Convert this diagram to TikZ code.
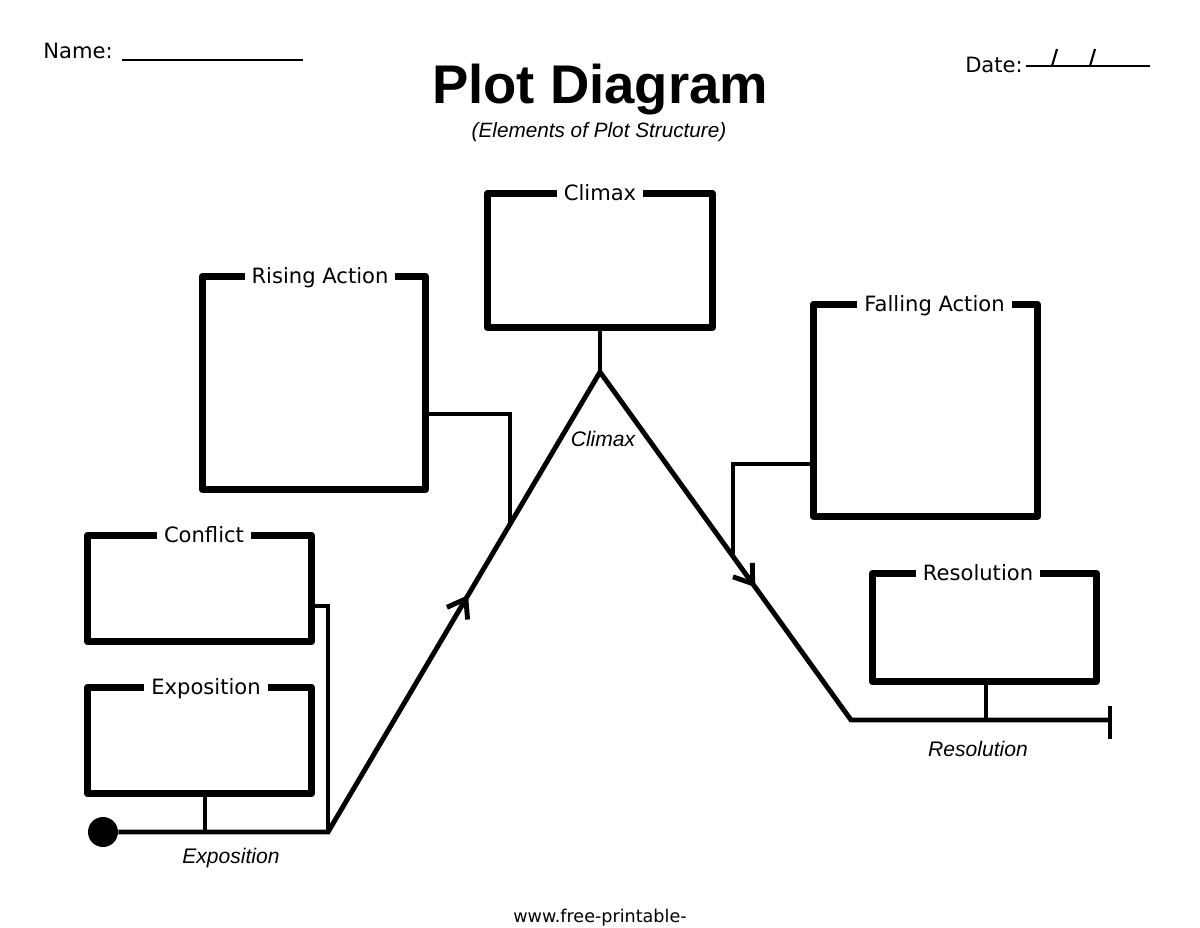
\documentclass[tikz,border=0pt]{standalone}
\usepackage{fontspec}
\setmainfont{DejaVu Sans}
\newfontfamily\arialfont{Liberation Sans}
\usetikzlibrary{calc,arrows.meta,decorations.markings}
\begin{document}
\begin{tikzpicture}[x=0.02cm,y=-0.02cm]
	\tikzset{plotbox/.style = {shape=rectangle,draw,line width=4.2pt,line join=round,minimum width=4.48cm,inner sep=0pt}}
	\tikzset{boxtitle/.style = {fill=white,inner xsep=0.14cm,inner ysep=1pt,text height=8.7pt,text depth=0pt,yshift=-0.06cm,font=\fontsize{12}{14}\selectfont}}
	\tikzset{plotline/.style = {line width=2.8pt,line join=miter}}
	\tikzset{link/.style = {line width=2.4pt}}
	\tikzset{barb/.style = {postaction={decorate},decoration={markings,mark=at position #1 with {\arrow{Straight Barb[length=0.34cm,width=0.48cm,line width=2.8pt]}}}}}
	\tikzset{plotlabel/.style = {anchor=base,font=\arialfont\itshape\fontsize{12}{14}\selectfont}}
	\useasboundingbox (0,0) rectangle (1200,927);
	% header
	\node[anchor=base,font=\fontsize{12}{14}\selectfont] (name) at (78,58) {Name:};
	\draw[line width=1.2pt] (122,60) -- (303,60);
	\node[anchor=base,font=\fontsize{12}{14}\selectfont] (date) at (994,72) {Date:};
	\draw[line width=1.2pt] (1026,66) -- (1150,66);
	\draw[line width=1.2pt] (1057,49) -- (1052,66);
	\draw[line width=1.2pt] (1095,49) -- (1090,66);
	\node[anchor=base,font=\arialfont\bfseries\fontsize{31}{36}\selectfont] (title) at (600,103) {Plot Diagram};
	\node[anchor=base,font=\arialfont\itshape\fontsize{11.8}{14}\selectfont] (subtitle) at (599,137) {(Elements of Plot Structure)};
	% boxes
	\node[plotbox,minimum width=4.5cm,minimum height=2.68cm] (climaxbox) at (600,260.5) {};
	\node[plotbox,minimum width=4.46cm,minimum height=4.26cm] (risingbox) at (314,383) {};
	\node[plotbox,minimum height=4.24cm] (fallingbox) at (925.5,410.5) {};
	\node[plotbox,minimum height=2.12cm] (conflictbox) at (199.5,588.5) {};
	\node[plotbox,minimum height=2.12cm] (expobox) at (199.5,740.5) {};
	\node[plotbox,minimum height=2.16cm] (resbox) at (984.5,627.5) {};
	\node[boxtitle] (climaxtitle) at (climaxbox.north) {Climax};
	\node[boxtitle,xshift=0.12cm] (risingtitle) at (risingbox.north) {Rising Action};
	\node[boxtitle,xshift=0.18cm] (fallingtitle) at (fallingbox.north) {Falling Action};
	\node[boxtitle,xshift=0.09cm] (conflicttitle) at (conflictbox.north) {Conflict};
	\node[boxtitle,xshift=0.13cm] (expotitle) at (expobox.north) {Exposition};
	\node[boxtitle,xshift=-0.13cm] (restitle) at (resbox.north) {Resolution};
	% plot line
	\node[circle,fill,minimum size=0.6cm,inner sep=0pt] (dot) at (103,832) {};
	\coordinate (base) at (328,832);
	\coordinate (peak) at (600,372);
	\coordinate (foot) at (851,720);
	\coordinate (finish) at (1110,720);
	\coordinate (risejoin) at ($(base)!0.669!(peak)$);
	\coordinate (falljoin) at ($(peak)!0.53!(foot)$);
	\draw[plotline] (dot) -- (base) -- (peak) -- (foot) -- (finish);
	\draw[plotline] ($(finish)+(0,-14)$) -- ($(finish)+(0,19)$);
	\path[plotline,barb=0.515] (base) -- (peak);
	\path[plotline,barb=0.618] (peak) -- (foot);
	% connectors
	\coordinate (expolink) at ([xshift=0.11cm]expobox.south);
	\coordinate (reslink) at ([xshift=0.03cm]resbox.south);
	\draw[link] (expolink) -- (expolink |- base);
	\draw[link] ([yshift=-0.35cm]conflictbox.east) -| (base);
	\draw[link] ([yshift=-0.62cm]risingbox.east) -| (risejoin);
	\draw[link] (climaxbox.south) -- (peak);
	\draw[link] ([yshift=-1.07cm]fallingbox.west) -| (falljoin);
	\draw[link] (reslink) -- (reslink |- foot);
	% labels
	\node[plotlabel] (climaxlabel) at (603,446) {Climax};
	\node[plotlabel] (expolabel) at (231,863) {Exposition};
	\node[plotlabel] (reslabel) at (978,756) {Resolution};
	\node[anchor=base,font=\fontsize{10}{12}\selectfont] (site) at (600,922) {www.free-printable-};
\end{tikzpicture}
\end{document}
